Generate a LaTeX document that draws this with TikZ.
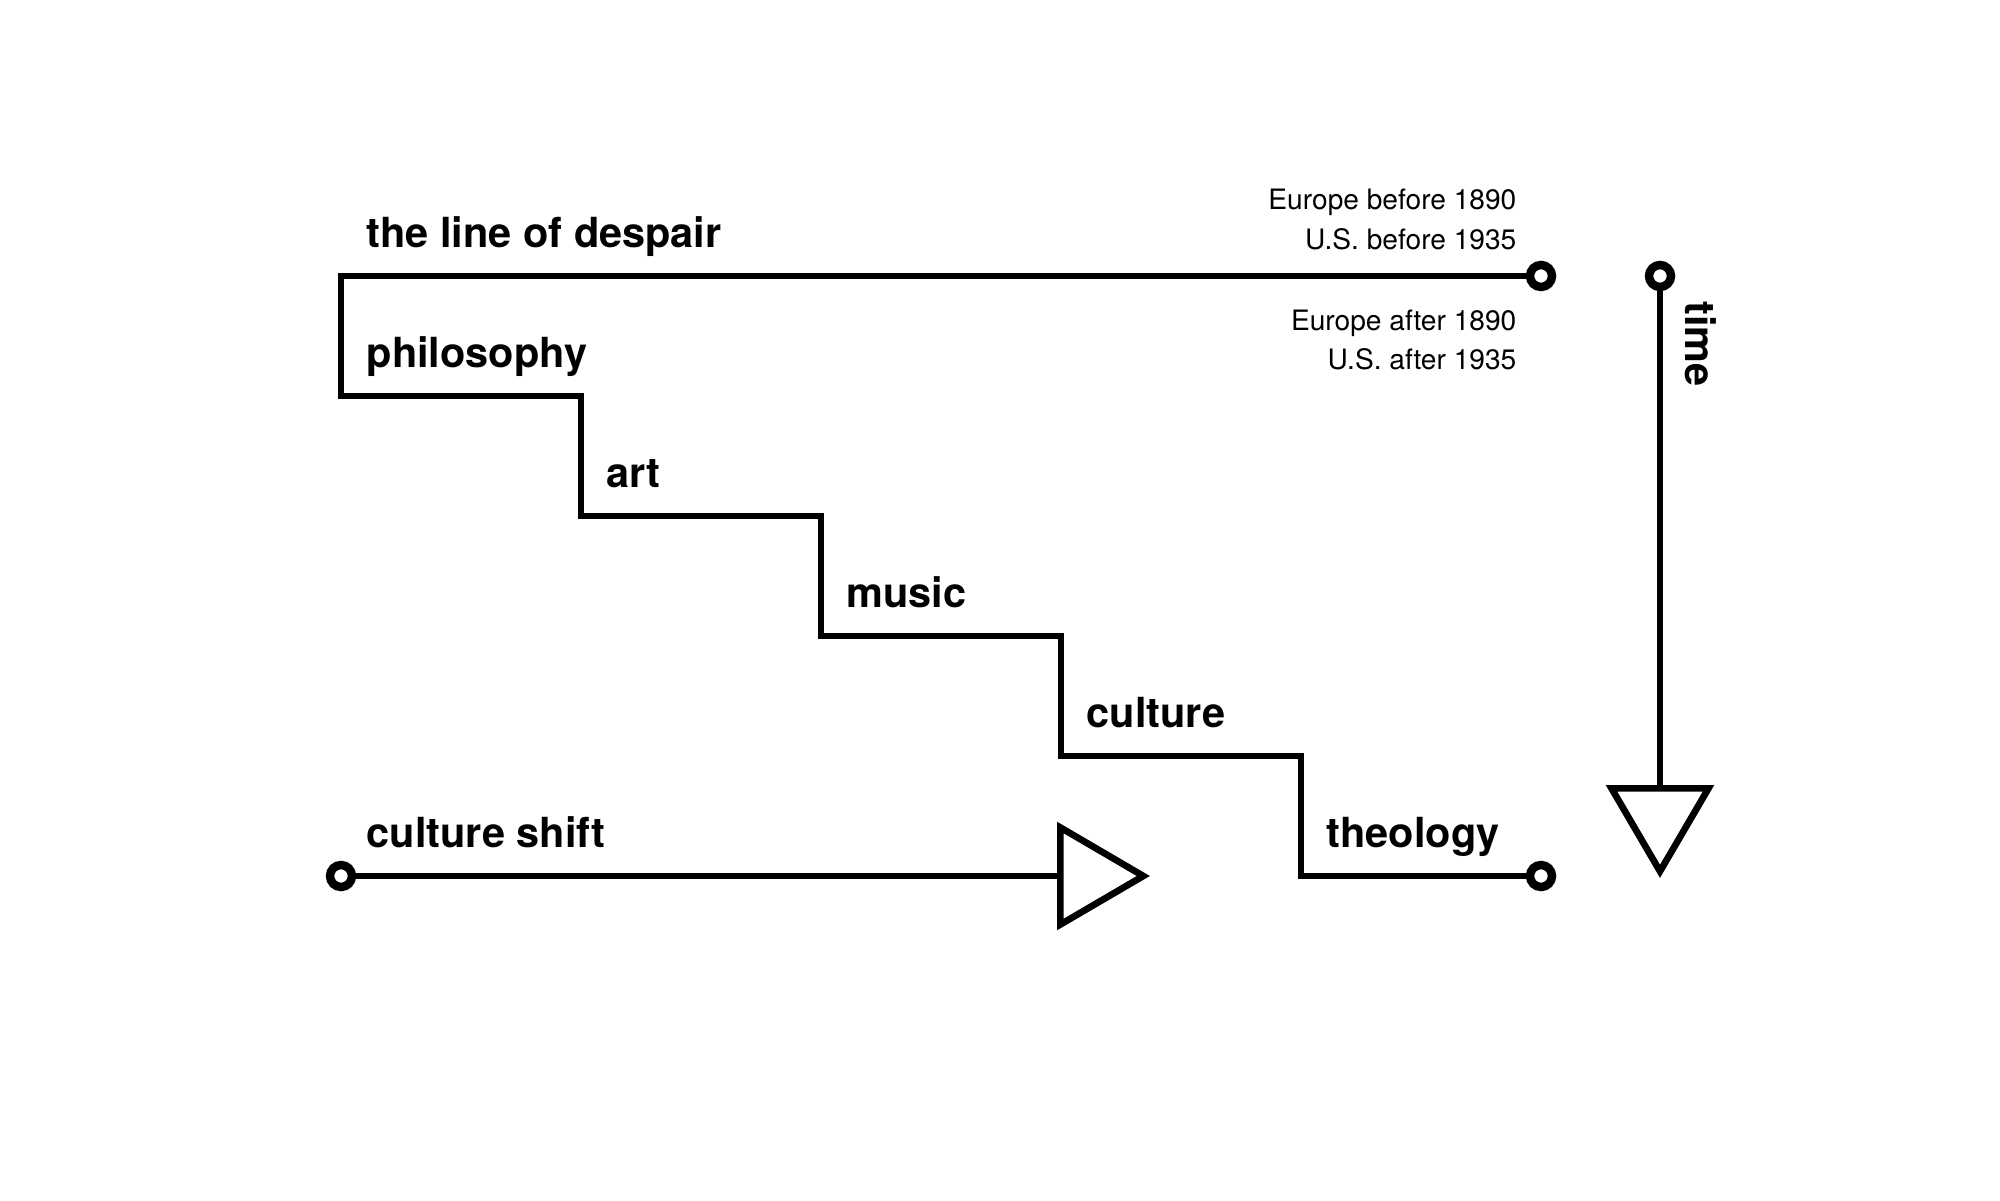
\documentclass[tikz,border=0pt]{standalone}
\usepackage{fontspec}
\setmainfont{TeX Gyre Heros}
\usetikzlibrary{arrows.meta, positioning}
\tikzset{
    dot/.style = {draw, circle, fill=white, line width=2.4pt, minimum size=0.22cm, inner sep=0pt},
    word/.style = {anchor=base west, inner sep=0pt, font=\fontsize{11.8}{14}\selectfont\bfseries},
    note/.style = {anchor=base east, inner sep=0pt, font=\fontsize{8}{10}\selectfont},
    wire/.style = {line width=1.9pt},
    bigarrow/.style = {wire, -{Triangle[open, length=0.93cm, width=1.07cm]}}
}

\begin{document}
\begin{tikzpicture}
    \useasboundingbox (0,0) rectangle (20,12);
    % Escalera
    \coordinate (c0) at (3.41,9.24);
    \coordinate (c1) at (3.41,8.04);
    \coordinate (c2) at (5.81,8.04);
    \coordinate (c3) at (5.81,6.84);
    \coordinate (c4) at (8.21,6.84);
    \coordinate (c5) at (8.21,5.64);
    \coordinate (c6) at (10.61,5.64);
    \coordinate (c7) at (10.61,4.44);
    \coordinate (c8) at (13.01,4.44);
    \coordinate (c9) at (13.01,3.24);
    % Puntos
    \node [dot] (top) at (15.41,9.24) {};
    \node [dot] (bottom) at (15.41,3.24) {};
    \node [dot] (shift) at (3.41,3.24) {};
    \node [dot] (time) at (16.60,9.24) {};
    \coordinate (shiftend) at (11.50,3.24);
    \coordinate (timeend) at (16.60,3.22);
    % Textos
    \node [word] (despair) at (3.66,9.525) {the line of despair};
    \node [word] (philo) at (3.66,8.325) {philosophy};
    \node [word] (art) at (6.06,7.125) {art};
    \node [word] (music) at (8.46,5.925) {music};
    \node [word] (culture) at (10.86,4.725) {culture};
    \node [word] (theo) at (13.26,3.525) {theology};
    \node [word] (shiftword) at (3.66,3.525) {culture shift};
    \node [word, rotate=-90] (timeword) at (16.85,8.995) {time};
    \node [note] (eubefore) at (15.17,9.90) {Europe before 1890};
    \node [note] (usbefore) at (15.17,9.50) {U.S. before 1935};
    \node [note] (euafter) at (15.17,8.69) {Europe after 1890};
    \node [note] (usafter) at (15.17,8.30) {U.S. after 1935};
    % Lineas
    \draw [wire] (top) -- (c0) -- (c1) -- (c2) -- (c3) -- (c4) -- (c5)
        -- (c6) -- (c7) -- (c8) -- (c9) -- (bottom);
    \draw [bigarrow] (shift) -- (shiftend);
    \draw [bigarrow] (time) -- (timeend);
\end{tikzpicture}
\end{document}
